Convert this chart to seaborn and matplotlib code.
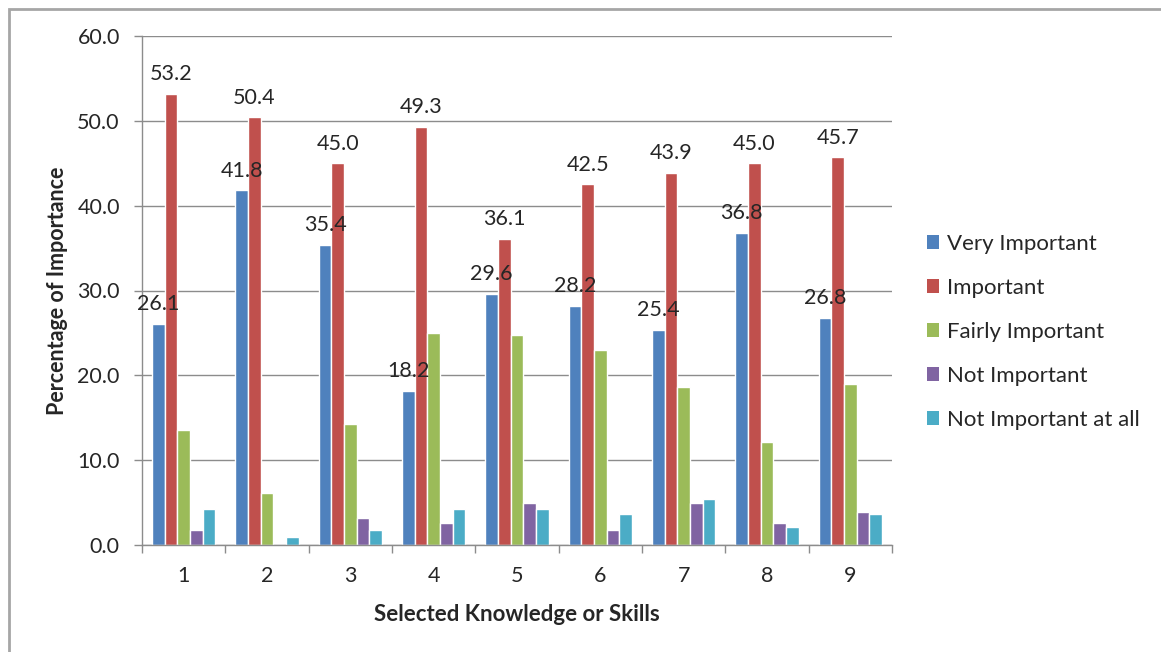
import matplotlib
matplotlib.use("Agg")
import matplotlib.pyplot as plt
import matplotlib.patches as mpatches
from matplotlib.ticker import FormatStrFormatter, MultipleLocator
import seaborn as sns
import pandas as pd

# Survey results: percentage of respondents per importance level
skills = ["1", "2", "3", "4", "5", "6", "7", "8", "9"]
levels = ["Very Important", "Important", "Fairly Important",
          "Not Important", "Not Important at all"]
very_important = [26.1, 41.8, 35.4, 18.2, 29.6, 28.2, 25.4, 36.8, 26.8]
important = [53.2, 50.4, 45.0, 49.3, 36.1, 42.5, 43.9, 45.0, 45.7]
fairly_important = [13.6, 6.1, 14.3, 25.0, 24.8, 23.0, 18.6, 12.1, 19.0]
not_important = [1.8, 0.0, 3.2, 2.6, 5.0, 1.8, 5.0, 2.6, 3.9]
not_important_at_all = [4.3, 1.0, 1.8, 4.3, 4.3, 3.6, 5.4, 2.1, 3.6]

colors = ["#4F81BD", "#C0504D", "#9BBB59", "#8064A2", "#4BACC6"]

series = [very_important, important, fairly_important,
          not_important, not_important_at_all]
df = pd.DataFrame({
    "skill": [s for _ in levels for s in skills],
    "level": [lv for lv in levels for _ in skills],
    "value": [v for vals in series for v in vals],
})

sns.set_theme(style="white")
plt.rcParams["font.family"] = ["Lato", "DejaVu Sans"]
text_color = "#262626"
num_size = 15.5

fig = plt.figure(figsize=(11.61, 6.52), dpi=100)
ax = fig.add_axes([142 / 1161, 1 - 545 / 652, 750 / 1161, 509 / 652])

sns.barplot(data=df, x="skill", y="value", hue="level", order=skills,
            hue_order=levels, palette=colors, saturation=1, width=0.76,
            dodge=True, legend=False, ax=ax, zorder=2)

# Value labels on the first two series only
for container in ax.containers[:2]:
    ax.bar_label(container, fmt="%.1f", padding=7, fontsize=num_size,
                 color=text_color, zorder=5)

ax.set_ylim(0, 60)
ax.set_xlim(-0.5, len(skills) - 0.5)
ax.yaxis.set_major_locator(MultipleLocator(10))
ax.yaxis.set_major_formatter(FormatStrFormatter("%.1f"))
ax.grid(axis="y", color="#8c8c8c", linewidth=1.0, zorder=0)
ax.set_axisbelow(True)

for side in ("top", "right"):
    ax.spines[side].set_visible(False)
for side in ("left", "bottom"):
    ax.spines[side].set_color("#8c8c8c")
    ax.spines[side].set_linewidth(1.0)

# Category boundary tick marks on the x axis
ax.set_xticks([i - 0.5 for i in range(len(skills) + 1)], minor=True)
ax.tick_params(axis="x", which="minor", direction="out", length=6,
               color="#8c8c8c", width=1.0, bottom=True)
ax.tick_params(axis="x", which="major", length=0, pad=15,
               labelsize=num_size, labelcolor=text_color)
ax.tick_params(axis="y", which="major", direction="out", length=6,
               color="#8c8c8c", width=1.0, pad=10, left=True,
               labelsize=num_size, labelcolor=text_color)

ax.set_xlabel("Selected Knowledge or Skills", fontsize=16,
              fontweight="bold", color=text_color, labelpad=13)
ax.set_ylabel("Percentage of Importance", fontsize=15.5,
              fontweight="bold", color=text_color, labelpad=7)

handles = [mpatches.Patch(facecolor=c, edgecolor="none") for c in colors]
fig.legend(handles, levels, loc="center left",
           bbox_to_anchor=(927 / 1161, 1 - 332 / 652), frameon=False,
           fontsize=16, handlelength=0.55, handleheight=0.55,
           handletextpad=0.35, labelspacing=1.08, labelcolor=text_color,
           borderaxespad=0, borderpad=0)

# Chart area border
fig.patches.append(mpatches.Rectangle(
    (9 / 1161, -0.05), 1.1, 1.05 - 9 / 652, transform=fig.transFigure,
    fill=False, edgecolor="#a6a6a6", linewidth=2.0))

fig.savefig("out.png", dpi=100)
